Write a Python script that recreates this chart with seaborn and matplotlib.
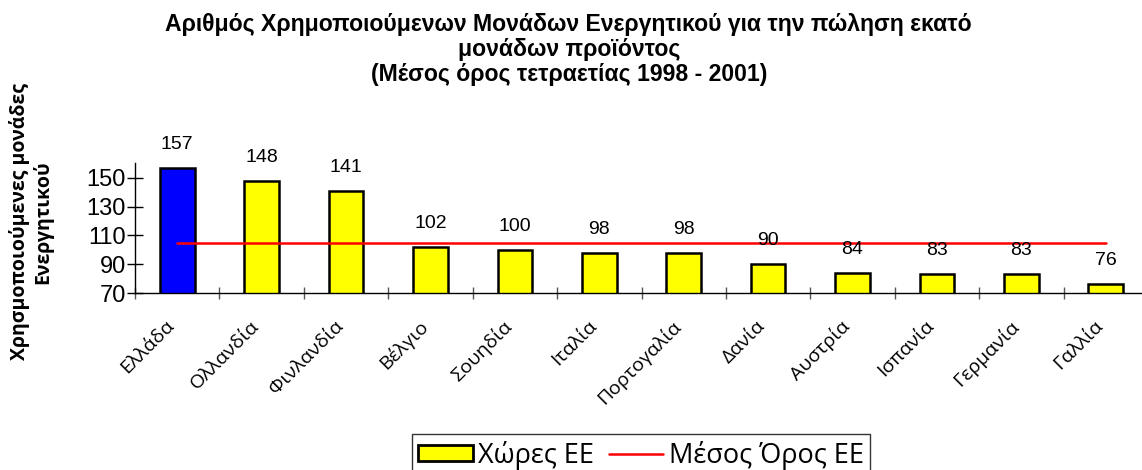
import numpy as np
import pandas as pd
import seaborn as sns
import matplotlib.pyplot as plt
from matplotlib.patches import Patch
from matplotlib.lines import Line2D
from matplotlib.ticker import FixedLocator
from matplotlib.transforms import ScaledTranslation

# data
countries = ["Ελλάδα", "Ολλανδία", "Φινλανδία", "Βέλγιο", "Σουηδία", "Ιταλία",
             "Πορτογαλία", "Δανία", "Αυστρία", "Ισπανία", "Γερμανία", "Γαλλία"]
values = [157, 148, 141, 102, 100, 98, 98, 90, 84, 83, 83, 76]
bar_colors = ["#0000FF"] + ["#FFFF00"] * 11
eu_average = 105
y_ticks = [70, 90, 110, 130, 150]

title = ("Αριθμός Χρημοποιούμενων Μονάδων Ενεργητικού για την πώληση εκατό\n"
         "μονάδων προϊόντος\n(Μέσος όρος τετραετίας 1998 - 2001)")
y_label = "Χρησμοποιούμενες μονάδες\nΕνεργητικού"

df = pd.DataFrame({"country": countries, "value": values})

sns.set_theme(style="white")
plt.rcParams["font.family"] = ["Liberation Sans", "DejaVu Sans"]
plt.rcParams.update({"text.color": "black", "axes.labelcolor": "black",
                     "xtick.color": "black", "ytick.color": "black"})

fig = plt.figure(figsize=(11.42, 4.70), dpi=100)
ax = fig.add_axes([135 / 1142, 1 - 293 / 470, 1013 / 1142, 130 / 470])

sns.barplot(data=df, x="country", y="value", hue="country", palette=bar_colors,
            legend=False, width=0.41, edgecolor="black", linewidth=1.8,
            saturation=1, ax=ax, zorder=2)

ax.plot(countries, [eu_average] * len(countries), color="#FF0000", lw=1.8, zorder=3)

for i, v in enumerate(values):
    ax.annotate(str(v), (i, v), xytext=(0, 17), textcoords="offset points",
                ha="center", va="center", fontsize=14, color="black")

ax.set_ylim(70, 160.4)
ax.set_xlim(-0.5, 11.5)
ax.set_yticks(y_ticks)
ax.tick_params(axis="y", direction="inout", length=11, width=1, labelsize=17,
               left=True, pad=1, colors="black")
ax.tick_params(axis="x", which="major", length=0, pad=17)
ax.xaxis.set_minor_locator(FixedLocator(np.arange(-0.5, 11.6, 1)))
ax.tick_params(axis="x", which="minor", direction="inout", length=9, width=1,
               bottom=True, color="#555555")
ax.set_xticks(range(len(countries)))
ax.set_xticklabels(countries, rotation=45, ha="right", va="top",
                   rotation_mode="anchor", fontsize=14, color="black",
                   family=["Open Sans", "DejaVu Sans"])
shift = ScaledTranslation(-0.12, 0, fig.dpi_scale_trans)
for lab in ax.get_xticklabels():
    lab.set_transform(lab.get_transform() + shift)
ax.set_xlabel("")
ax.set_ylabel("")

for s in ["top", "right"]:
    ax.spines[s].set_visible(False)
for s in ["left", "bottom"]:
    ax.spines[s].set_color("black")
    ax.spines[s].set_linewidth(1)

fig.text(0.498, 1 - 13 / 470, title, ha="center", va="top", fontsize=16.6,
         fontweight="bold", linespacing=1.12, color="black")
fig.text(31 / 1142, 1 - 222 / 470, y_label, rotation=90, ha="center", va="center",
         fontsize=14, fontweight="bold", family=["Open Sans", "DejaVu Sans"],
         linespacing=1.15, color="black")

handles = [Patch(facecolor="#FFFF00", edgecolor="black", linewidth=2),
           Line2D([0], [0], color="#FF0000", lw=1.8)]
leg = fig.legend(handles, ["Χώρες ΕΕ", "Μέσος Όρος ΕΕ"], loc="upper center",
                 bbox_to_anchor=(641 / 1142, 1 - 434 / 470), ncol=2, frameon=True,
                 fancybox=False, edgecolor="#333333", framealpha=1,
                 prop={"family": ["Open Sans", "DejaVu Sans"], "size": 19.5},
                 handlelength=2.0, handleheight=0.5, handletextpad=0.2,
                 columnspacing=0.55, borderpad=0.25, borderaxespad=0)
leg.get_frame().set_linewidth(1)

fig.savefig("out.png", dpi=100)
